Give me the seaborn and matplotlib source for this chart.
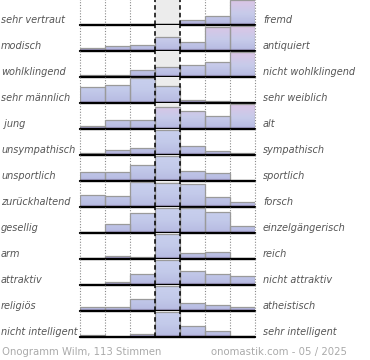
import numpy as np
import pandas as pd
import matplotlib
matplotlib.use("Agg")
import matplotlib.pyplot as plt
import seaborn as sns
from matplotlib.colors import LinearSegmentedColormap

left_labels = ["sehr vertraut", "modisch", "wohlklingend", "sehr männlich", " jung",
               "unsympathisch", "unsportlich", "zurückhaltend", "gesellig", "arm",
               "attraktiv", "religiös", "nicht intelligent"]
right_labels = ["fremd", "antiquiert", "nicht wohlklingend", "sehr weiblich", "alt",
                "sympathisch", "sportlich", "forsch", "einzelgängerisch", "reich",
                "nicht attraktiv", "atheistisch", "sehr intelligent"]

# relative vote shares per scale step (1..7)
r01 = [0, 0, 5, 5, 21, 36, 100]
r02 = [13, 19, 24, 55, 37, 98, 100]
r03 = [9, 7, 28, 41, 48, 61, 100]
r04 = [64, 72, 100, 69, 13, 8, 2]
r05 = [11, 35, 35, 88, 71, 51, 100]
r06 = [9, 19, 29, 100, 37, 16, 9]
r07 = [36, 36, 63, 100, 39, 31, 0]
r08 = [48, 43, 100, 97, 91, 41, 19]
r09 = [4, 37, 81, 100, 100, 86, 30]
r10 = [3, 13, 9, 100, 23, 27, 3]
r11 = [0, 12, 43, 100, 57, 43, 37]
r12 = [16, 16, 48, 100, 31, 23, 15]
r13 = [8, 0, 12, 100, 43, 23, 3]
rows = [r01, r02, r03, r04, r05, r06, r07, r08, r09, r10, r11, r12, r13]

footer_left = "Onogramm Wilm, 113 Stimmen"
footer_right = "onomastik.com - 05 / 2025"

W, H = 370, 360
X0, X1 = 80, 255
PITCH = 26

cmap_pink = LinearSegmentedColormap.from_list(
    "pink", [(0, "#a293c6"), (0.1, "#b9bde3"), (0.45, "#c7cbea"), (0.8, "#d5c7e7"), (1, "#dcc4e5")])
cmap_blue = LinearSegmentedColormap.from_list(
    "blue", [(0, "#a293c6"), (0.1, "#b9bde3"), (0.5, "#c3caea"), (1, "#c9d0ee")])

sns.set_style("white")
fig = plt.figure(figsize=(W / 100, H / 100), dpi=100)

grad = np.linspace(0, 1, 256).reshape(-1, 1)

for i, vals in enumerate(rows):
    base = 25 + PITCH * i
    ax = fig.add_axes([X0 / W, 1 - base / H, (X1 - X0) / W, PITCH / H])
    df = pd.DataFrame({"pos": np.arange(1, 8), "v": vals})
    vmax = max(vals)
    top = vmax * PITCH / 25.0
    mean = (df["pos"] * df["v"]).sum() / df["v"].sum()
    cmap = cmap_pink if mean > 4.75 else cmap_blue

    sns.barplot(data=df, x="pos", y="v", ax=ax, width=1, color="#c4cbea",
                saturation=1, edgecolor="#9a9a9a", linewidth=0.9, zorder=2)
    bars = list(ax.patches)
    for p in bars:
        if p.get_height() <= 0:
            p.set_visible(False)
            continue
        im = ax.imshow(grad, extent=(-0.5, 6.5, 0, top), origin="lower", aspect="auto",
                       cmap=cmap, zorder=1.8, interpolation="bilinear")
        im.set_clip_path(p)
        p.set_facecolor("none")

    ax.axvspan(2.5, 3.5, color="#ececec", zorder=0, lw=0)
    for xv in [-0.5, 0.5, 1.5, 4.5, 5.5, 6.5]:
        ax.axvline(xv, color="#8a8a8a", ls=(0, (1, 1.5)), lw=0.8, zorder=0.5, clip_on=False)
    for xv in [2.5, 3.5]:
        ax.axvline(xv, color="black", ls=(0, (3, 2)), lw=1.1, zorder=5, clip_on=False)
    ax.axhline(0, color="black", lw=1.7, zorder=6, clip_on=False)

    ax.set_xlim(-0.5, 6.5)
    ax.set_ylim(0, top)
    ax.set_axis_off()

    fig.text(1 / W, 1 - (base - 5) / H, left_labels[i], fontsize=7, style="italic",
             color="#555555", va="center", ha="left")
    fig.text(263 / W, 1 - (base - 5) / H, right_labels[i], fontsize=7, style="italic",
             color="#555555", va="center", ha="left")

fig.text(2 / W, 1 - 352 / H, footer_left, fontsize=7.3, color="#aaaaaa", va="center", ha="left")
fig.text(347 / W, 1 - 352 / H, footer_right, fontsize=7.3, color="#aaaaaa", va="center", ha="right")

fig.savefig("out.png", dpi=100)
